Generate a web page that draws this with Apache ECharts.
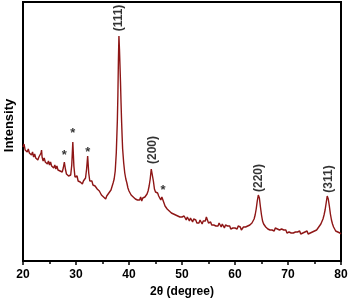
<!DOCTYPE html>
<html>
<head>
<meta charset="utf-8">
<script src="https://cdn.jsdelivr.net/npm/echarts@6/dist/echarts.min.js"></script>
<style>html,body{margin:0;padding:0;background:#fff}#c{width:350px;height:299px}</style>
</head>
<body>
<div id="c"></div>
<script>
const twoTheta = [
20.0,20.2,20.4,20.6,20.8,21.0,21.2,21.4,21.6,21.8,
22.0,22.2,22.4,22.6,22.8,23.0,23.2,23.4,23.5,23.6,
23.8,24.0,24.2,24.4,24.6,24.8,25.0,25.2,25.4,25.6,
25.8,26.0,26.2,26.4,26.6,26.8,27.0,27.2,27.4,27.6,
27.8,28.0,28.2,28.4,28.6,28.8,29.0,29.2,29.4,29.6,
29.8,30.0,30.2,30.4,30.6,30.8,31.0,31.2,31.4,31.6,
31.8,32.0,32.2,32.4,32.6,32.8,33.0,33.2,33.4,33.6,
33.8,34.0,34.2,34.4,34.6,34.8,35.0,35.2,35.4,35.6,
35.8,36.0,36.2,36.4,36.6,36.8,37.0,37.2,37.4,37.6,
37.8,37.9,38.0,38.1,38.2,38.3,38.4,38.5,38.6,38.7,
38.8,39.0,39.2,39.4,39.6,39.8,40.0,40.2,40.4,40.6,
40.8,41.0,41.2,41.4,41.6,41.8,42.0,42.2,42.4,42.6,
42.8,43.0,43.2,43.4,43.6,43.8,44.0,44.2,44.3,44.4,
44.6,44.8,45.0,45.2,45.4,45.6,45.8,46.0,46.2,46.4,
46.6,46.8,47.0,47.2,47.4,47.6,47.8,48.0,48.2,48.4,
48.6,48.8,49.0,49.2,49.4,49.6,49.8,50.0,50.2,50.4,
50.6,50.8,51.0,51.2,51.4,51.6,51.8,52.0,52.2,52.4,
52.6,52.8,53.0,53.2,53.4,53.6,53.8,54.0,54.2,54.4,
54.6,54.8,55.0,55.2,55.4,55.6,55.8,56.0,56.2,56.4,
56.6,56.8,57.0,57.2,57.4,57.6,57.8,58.0,58.2,58.4,
58.6,58.8,59.0,59.2,59.4,59.6,59.8,60.0,60.2,60.4,
60.6,60.8,61.0,61.2,61.4,61.6,61.8,62.0,62.2,62.4,
62.6,62.8,63.0,63.2,63.4,63.6,63.8,64.0,64.2,64.4,
64.5,64.6,64.8,65.0,65.2,65.4,65.6,65.8,66.0,66.2,
66.4,66.6,66.8,67.0,67.2,67.4,67.6,67.8,68.0,68.2,
68.4,68.6,68.8,69.0,69.2,69.4,69.6,69.8,70.0,70.2,
70.4,70.6,70.8,71.0,71.2,71.4,71.6,71.8,72.0,72.2,
72.4,72.6,72.8,73.0,73.2,73.4,73.6,73.8,74.0,74.2,
74.4,74.6,74.8,75.0,75.2,75.4,75.6,75.8,76.0,76.2,
76.4,76.6,76.8,77.0,77.2,77.4,77.5,77.6,77.8,78.0,
78.2,78.4,78.6,78.8,79.0,79.2,79.4,79.6,79.8,80.0
];
const intensity = [
114,117,111,113,109,112,108,110,106,109,
104,107,103,105,101,104,102,108,111,104,
100,103,99,101,97,100,96,99,95,97,
93,96,92,95,91,93,90,92,89,93,
99,92,87,89,85,87,86,96,119,95,
84,82,85,80,82,79,81,77,80,78,
83,92,105,88,80,78,80,76,78,75,
77,72,74,70,72,66,67,64,66,62,
65,64,68,67,71,73,78,82,90,108,
140,165,200,225,212,195,178,158,140,125,
112,98,88,82,78,73,70,69,66,67,
64,65,62,64,61,63,61,64,60,63,
62,64,65,67,70,75,82,92,94,91,
80,72,69,67,68,65,63,61,64,65,
58,55,56,52,54,50,52,48,50,47,
49,46,48,45,47,44,46,44,42,45,
43,41,44,42,40,43,41,39,42,40,
41,38,40,38,41,39,37,40,38,40,
44,41,38,37,39,36,38,36,38,35,
37,35,38,36,34,37,35,33,36,34,
35,33,35,32,34,33,35,33,34,32,
35,33,34,31,33,34,32,34,33,35,
34,36,35,38,39,42,46,52,60,66,
67,63,54,46,40,37,36,34,35,32,
34,31,33,31,32,30,33,31,32,30,
31,29,32,30,31,29,31,28,30,29,
31,28,30,28,30,29,27,29,28,30,
27,29,28,27,29,28,30,27,29,28,
30,29,31,30,32,31,33,34,35,37,
39,42,46,51,58,65,66,62,55,47,
41,37,34,33,30,32,29,31,28,27
];
const planeLabels = ['(111)', '(200)', '(220)', '(311)'];
const planeX = [38.1, 44.4, 64.45, 77.6];
const planeY = [243, 111, 83, 82];
const starX = [27.8, 29.4, 32.2, 46.4];
const starY = [106, 128, 109, 71];

const lineData = twoTheta.map((x, i) => [x, intensity[i]]);
const planeData = planeX.map((x, i) => ({ value: [x, planeY[i]], name: planeLabels[i] }));
const starData = starX.map((x, i) => ({ value: [x, starY[i]], name: '*' }));

const chart = echarts.init(document.getElementById('c'), null, { renderer: 'canvas' });
const font = 'Arial, "Liberation Sans", sans-serif';
chart.setOption({
  animation: false,
  backgroundColor: '#fff',
  grid: { left: 23, right: 9, top: 2, bottom: 38, outerBoundsMode: 'none', containLabel: false, show: true, borderColor: '#000', borderWidth: 2, backgroundColor: 'transparent' },
  xAxis: {
    type: 'value', min: 20, max: 80, interval: 10,
    name: '2θ (degree)', nameLocation: 'middle', nameGap: 24,
    nameTextStyle: { fontFamily: font, fontWeight: 'bold', fontSize: 12, color: '#000' },
    axisLine: { show: true, onZero: false, lineStyle: { color: '#000', width: 2 } },
    axisTick: { show: true, inside: false, length: 4, lineStyle: { color: '#000', width: 1.5 } },
    minorTick: { show: true, splitNumber: 2, length: 3, lineStyle: { color: '#000', width: 1.5 } },
    axisLabel: { fontFamily: font, fontWeight: 'bold', fontSize: 12, color: '#000', margin: 8 },
    splitLine: { show: false }
  },
  yAxis: {
    type: 'value', min: 0, max: 259,
    name: 'Intensity', nameLocation: 'middle', nameGap: 7, nameRotate: 90,
    nameTextStyle: { fontFamily: font, fontWeight: 'bold', fontSize: 13, color: '#000', padding: [0, 0, 0, 12] },
    axisLine: { show: true, lineStyle: { color: '#000', width: 2 } },
    axisTick: { show: false }, axisLabel: { show: false }, splitLine: { show: false }
  },
  series: [
    {
      type: 'line', data: lineData, showSymbol: false, symbol: 'none',
      lineStyle: { color: '#8e1616', width: 1.4 }, z: 3
    },
    {
      type: 'scatter', data: planeData, symbolSize: 1, itemStyle: { color: 'rgba(0,0,0,0)' },
      label: { show: true, position: 'inside', rotate: 90, formatter: p => p.name,
        fontFamily: font, fontWeight: 'bold', fontSize: 12, color: '#000' }, z: 4
    },
    {
      type: 'scatter', data: starData, symbolSize: 1, itemStyle: { color: 'rgba(0,0,0,0)' },
      label: { show: true, position: 'inside', formatter: p => p.name,
        fontFamily: font, fontWeight: 'bold', fontSize: 13, color: '#000' }, z: 4
    }
  ]
});
</script>
</body>
</html>
